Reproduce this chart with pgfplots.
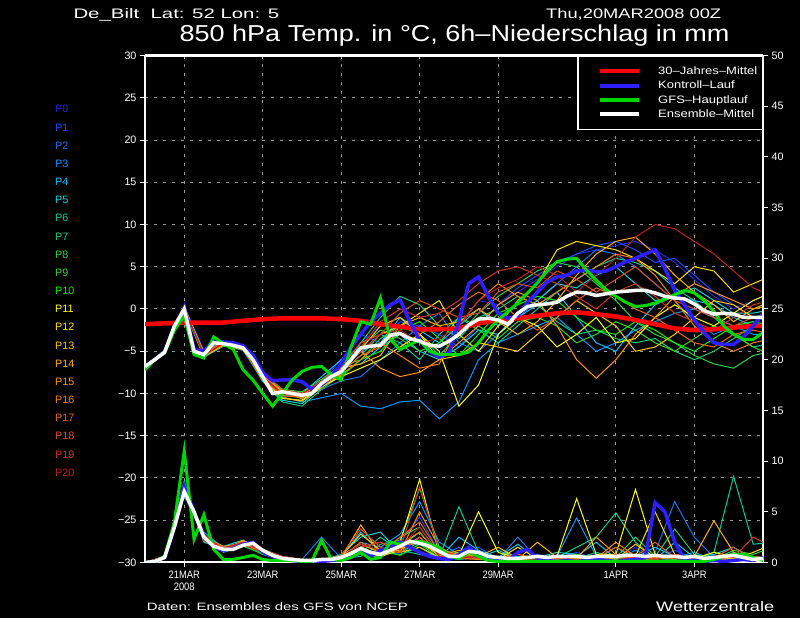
\documentclass[border=0pt]{standalone}
\usepackage{fontspec}
\setmainfont{Liberation Sans}
\usepackage{graphicx}
\usepackage{pgfplots}
\pgfplotsset{compat=1.18}

\definecolor{p0}{RGB}{35,35,225}
\definecolor{p1}{RGB}{25,75,255}
\definecolor{p2}{RGB}{25,115,240}
\definecolor{p3}{RGB}{0,150,255}
\definecolor{p4}{RGB}{0,190,255}
\definecolor{p5}{RGB}{0,212,225}
\definecolor{p6}{RGB}{0,205,150}
\definecolor{p7}{RGB}{20,205,115}
\definecolor{p8}{RGB}{35,212,70}
\definecolor{p9}{RGB}{50,212,40}
\definecolor{p10}{RGB}{0,240,0}
\definecolor{p11}{RGB}{255,255,0}
\definecolor{p12}{RGB}{255,225,0}
\definecolor{p13}{RGB}{255,200,0}
\definecolor{p14}{RGB}{255,175,0}
\definecolor{p15}{RGB}{255,150,0}
\definecolor{p16}{RGB}{245,130,10}
\definecolor{p17}{RGB}{235,100,20}
\definecolor{p18}{RGB}{225,75,30}
\definecolor{p19}{RGB}{210,50,30}
\definecolor{p20}{RGB}{190,30,30}
\definecolor{ctrl}{RGB}{45,30,255}
\definecolor{gfs}{RGB}{0,215,0}
\definecolor{clim}{RGB}{255,0,0}
\definecolor{gridgray}{RGB}{150,150,150}

\newcommand\smallfont{\fontsize{10.75}{11.6}\selectfont}
% member series, 12-hourly values
\newcommand\mem[2]{\addplot[color=#1, line width=1pt, forget plot] table[x expr=\coordindex*0.5, y index=0, header=false, row sep=\\]{#2};}

\begin{document}
\begin{tikzpicture}[x=1pt,y=1pt]
\fill[black] (0,0) rectangle (800,618);
\path[use as bounding box] (0,0) rectangle (800,618);

% top ticks (inside)
\begin{axis}[at={(145pt,55.5pt)}, anchor=south west, scale only axis,
  width=618pt, height=507pt, xmin=0, xmax=15.75, ymin=-30, ymax=30,
  hide y axis, axis x line*=top, x axis line style={white, line width=2pt, -},
  xtick={1,3,5,7,9,12,14}, xticklabels={}, tick align=inside,
  major tick length=4pt, xtick style={white, line width=1pt}]
\end{axis}

% temperature axis
\begin{axis}[at={(145pt,55.5pt)}, anchor=south west, scale only axis,
  width=618pt, height=507pt, xmin=0, xmax=15.75, ymin=-30, ymax=30,
  axis line style={white, line width=2pt},
  xtick={1,3,5,7,9,12,14},
  xticklabels={{\scalebox{0.87}[1]{21MAR}\\\scalebox{0.87}[1]{2008}},
    \scalebox{0.87}[1]{23MAR},\scalebox{0.87}[1]{25MAR},\scalebox{0.87}[1]{27MAR},
    \scalebox{0.87}[1]{29MAR},\scalebox{0.87}[1]{1APR},\scalebox{0.87}[1]{3APR}},
  ytick={-30,-25,...,30},
  yticklabels={−30,−25,−20,−15,−10,−5,0,5,10,15,20,25,30},
  xtick pos=bottom, ytick pos=left, tick align=outside, major tick length=5pt,
  tick style={white, line width=1pt},
  xticklabel style={align=center, text=white, font=\smallfont},
  yticklabel style={text=white, font=\smallfont},
  grid=major, major grid style={gridgray, line width=1pt, dash pattern=on 3pt off 6pt},
  legend cell align=left,
  legend image code/.code={\path (0pt,0pt); \draw[#1, line width=4pt] (15pt,0pt) -- (54pt,0pt);},
  legend style={at={(1,1)}, anchor=north east, fill=black, draw=white, line width=1.5pt,
    text=white, font=\smallfont, inner xsep=5pt, inner ysep=10pt, column sep=17pt, row sep=4.4pt,
    nodes={inner sep=0pt, text height=8pt, text depth=2pt}},
]
% ensemble members P0..P20 (850 hPa temperature, 12-hourly)
\mem{p0}{-6.7\\-5.1\\0.2\\-5.2\\-3.9\\-4.2\\-7.5\\-10.5\\-10.8\\-9.0\\-6.5\\-4.0\\-2.0\\-1.0\\-3.5\\-5.0\\-2.0\\1.0\\0.5\\2.0\\3.5\\5.0\\6.5\\7.0\\7.5\\8.0\\7.0\\5.5\\3.5\\1.5\\0.0\\1.0\\2.0\\}
\mem{p1}{-6.8\\-5.0\\0.1\\-5.6\\-4.3\\-4.9\\-8.5\\-10.3\\-10.0\\-8.5\\-6.0\\-3.0\\-4.0\\-1.5\\-2.0\\-3.0\\-4.5\\-2.0\\0.5\\2.5\\4.0\\5.5\\6.5\\7.5\\8.0\\7.0\\5.5\\6.0\\4.0\\2.0\\0.5\\-1.0\\-0.5\\}
\mem{p2}{-6.9\\-4.9\\0.0\\-5.3\\-4.0\\-4.5\\-8.2\\-10.0\\-10.5\\-9.5\\-8.5\\-8.0\\-6.0\\-4.0\\-2.0\\-0.5\\-4.0\\-5.0\\-3.0\\-1.0\\1.0\\3.0\\5.0\\7.0\\6.5\\5.0\\3.0\\1.0\\-1.5\\-3.0\\-2.0\\-1.5\\-2.5\\}
\mem{p3}{-6.8\\-5.2\\-0.2\\-5.5\\-4.2\\-4.8\\-8.4\\-10.4\\-11.0\\-10.5\\-10.0\\-11.5\\-11.8\\-11.0\\-10.8\\-13.0\\-11.0\\-6.0\\-4.0\\-3.0\\-2.0\\-1.0\\-3.0\\-5.0\\-4.0\\-2.5\\-1.5\\-0.5\\0.0\\-1.0\\-2.0\\-3.0\\-3.0\\}
\mem{p4}{-6.7\\-5.0\\0.3\\-5.0\\-3.8\\-4.4\\-7.8\\-9.5\\-10.0\\-8.0\\-6.0\\-5.0\\-4.0\\-1.0\\-2.5\\-4.0\\-2.0\\0.0\\-2.0\\-1.0\\0.5\\2.0\\-1.0\\-4.0\\-5.0\\-2.0\\0.5\\1.5\\1.0\\0.5\\-1.0\\-2.0\\-1.5\\}
\mem{p5}{-6.9\\-5.1\\-0.1\\-5.7\\-4.4\\-4.7\\-8.3\\-10.8\\-11.2\\-9.2\\-7.0\\-6.5\\-4.5\\-3.0\\-5.0\\-6.0\\-4.5\\-2.5\\-3.0\\-0.5\\1.0\\3.0\\2.5\\4.0\\5.0\\3.0\\1.0\\1.5\\2.5\\1.0\\-0.5\\-0.5\\0.0\\}
\mem{p6}{-6.8\\-5.0\\0.0\\-5.4\\-4.0\\-4.3\\-7.6\\-9.6\\-10.3\\-9.0\\-7.5\\-5.5\\-3.0\\-4.0\\-6.0\\-3.0\\-1.0\\-2.5\\-4.0\\-2.0\\0.0\\2.0\\3.5\\5.0\\6.0\\5.5\\4.5\\2.5\\1.0\\-1.0\\-3.0\\-4.5\\-4.0\\}
\mem{p7}{-6.8\\-5.0\\0.1\\-5.5\\-4.1\\-4.6\\-8.6\\-11.0\\-11.5\\-9.5\\-7.8\\-4.0\\-1.0\\1.5\\0.5\\-2.0\\-3.5\\-1.0\\0.0\\1.5\\0.5\\-1.5\\-3.0\\-2.5\\-3.5\\-4.0\\-3.5\\-5.0\\-6.0\\-5.0\\-3.5\\-2.0\\-1.5\\}
\mem{p8}{-6.8\\-4.9\\0.0\\-5.3\\-4.0\\-4.5\\-8.0\\-9.5\\-9.8\\-8.3\\-6.8\\-6.0\\-3.5\\-2.0\\-3.0\\-5.5\\-3.0\\-0.5\\1.5\\3.0\\4.5\\5.5\\5.0\\3.0\\1.0\\-1.5\\-3.0\\-4.0\\-5.5\\-6.5\\-7.0\\-5.5\\-5.0\\}
\mem{p9}{-6.7\\-5.0\\0.1\\-5.6\\-4.2\\-4.9\\-8.2\\-10.2\\-10.5\\-8.5\\-7.0\\-4.5\\-2.5\\-3.5\\-5.0\\-4.0\\-1.0\\-2.0\\-3.5\\-1.5\\-1.0\\-2.0\\-4.0\\-3.0\\-1.5\\-2.5\\-4.0\\-5.0\\-3.5\\-2.0\\-3.0\\-4.5\\-5.5\\}
\mem{p10}{-6.9\\-5.1\\-0.2\\-5.4\\-4.1\\-4.7\\-7.9\\-9.7\\-10.0\\-9.0\\-8.0\\-6.0\\-5.0\\-2.5\\-1.5\\-3.5\\-5.5\\-3.0\\-0.5\\0.5\\1.5\\1.0\\-1.0\\-2.5\\-3.0\\-1.5\\-2.5\\-4.0\\-5.0\\-3.5\\-2.0\\-1.5\\-2.0\\}
\mem{p11}{-6.8\\-5.0\\0.2\\-5.5\\-4.0\\-4.4\\-8.1\\-10.6\\-10.8\\-9.2\\-8.0\\-7.0\\-6.0\\-4.5\\-3.0\\-5.0\\-11.5\\-9.0\\-3.0\\-1.0\\-2.0\\-4.5\\-3.0\\-1.0\\-4.0\\-3.5\\-1.0\\0.5\\-1.0\\-2.0\\-0.5\\1.0\\2.0\\}
\mem{p12}{-6.7\\-5.1\\0.0\\-5.2\\-3.9\\-4.3\\-7.7\\-9.9\\-10.4\\-8.9\\-7.2\\-5.0\\-3.0\\-2.0\\-0.5\\1.0\\-3.0\\-5.0\\-2.0\\1.0\\3.0\\7.0\\8.0\\7.5\\7.0\\6.0\\4.5\\3.0\\5.0\\4.5\\2.0\\3.0\\4.0\\}
\mem{p13}{-6.8\\-5.0\\0.1\\-5.4\\-4.2\\-4.6\\-8.4\\-10.5\\-10.9\\-9.3\\-7.6\\-4.8\\-2.0\\-1.0\\-3.0\\-6.0\\-5.5\\-4.0\\-4.5\\-5.0\\-3.0\\-1.0\\1.0\\-0.5\\-2.0\\-5.0\\-4.5\\-3.0\\-1.0\\1.0\\0.5\\-1.0\\-0.5\\}
\mem{p14}{-6.9\\-4.9\\0.3\\-5.6\\-4.3\\-4.8\\-8.0\\-10.0\\-10.2\\-8.6\\-7.0\\-6.5\\-5.5\\-2.0\\-1.0\\-2.0\\-1.5\\0.0\\-1.5\\-3.0\\-1.5\\1.0\\4.0\\6.5\\8.0\\8.5\\6.5\\4.0\\2.0\\0.5\\-1.5\\0.0\\1.0\\}
\mem{p15}{-6.8\\-5.0\\0.0\\-5.3\\-4.0\\-4.5\\-8.2\\-9.6\\-10.0\\-8.7\\-7.3\\-5.0\\-7.0\\-8.0\\-7.5\\-6.0\\-4.0\\-2.0\\0.5\\2.0\\1.0\\-2.0\\-6.0\\-8.2\\-6.0\\-3.0\\-1.0\\1.5\\3.0\\2.0\\1.0\\0.0\\0.5\\}
\mem{p16}{-6.7\\-5.1\\0.2\\-5.5\\-4.1\\-4.6\\-7.8\\-9.9\\-10.6\\-9.1\\-7.8\\-6.0\\-4.0\\-5.5\\-7.0\\-6.5\\-2.0\\1.0\\3.0\\1.5\\0.5\\2.0\\3.5\\5.0\\6.5\\6.0\\4.0\\1.0\\-2.0\\-4.0\\-5.0\\-4.0\\-3.5\\}
\mem{p17}{-6.8\\-5.0\\0.0\\-5.4\\-4.2\\-4.7\\-8.3\\-10.3\\-10.4\\-8.8\\-7.5\\-5.5\\-4.5\\-2.0\\-3.0\\-1.5\\0.5\\2.0\\1.0\\-1.0\\-2.5\\-1.0\\1.0\\2.5\\1.5\\0.0\\-1.0\\-2.5\\-4.0\\-4.5\\-3.0\\-2.5\\-3.0\\}
\mem{p18}{-6.9\\-4.9\\-0.1\\-5.2\\-3.9\\-4.4\\-7.5\\-9.5\\-10.0\\-8.5\\-6.8\\-4.0\\-3.0\\-0.5\\1.0\\0.0\\-1.0\\-0.5\\2.0\\3.0\\2.5\\4.5\\3.5\\2.0\\3.5\\5.0\\3.0\\1.0\\0.0\\-1.0\\-2.0\\-1.0\\-1.5\\}
\mem{p19}{-6.8\\-5.0\\0.1\\-5.5\\-4.0\\-4.5\\-8.1\\-10.1\\-10.3\\-8.9\\-7.4\\-4.5\\-1.5\\0.0\\-1.0\\-0.5\\1.0\\3.0\\4.5\\5.0\\4.0\\3.0\\1.5\\0.0\\2.0\\3.0\\1.5\\-0.5\\-1.5\\-2.5\\-1.0\\0.5\\1.0\\}
\mem{p20}{-6.7\\-5.1\\0.0\\-5.4\\-4.1\\-4.6\\-8.0\\-10.0\\-10.1\\-8.6\\-7.1\\-5.0\\-3.0\\-2.5\\-4.0\\-3.5\\-2.0\\1.0\\2.5\\3.5\\5.0\\4.0\\2.0\\4.0\\6.0\\8.5\\10.0\\9.5\\8.0\\6.5\\4.5\\2.5\\1.5\\}
% 30-year mean (12-hourly)
\addplot[color=clim, line width=4.5pt] table[x expr=\coordindex*0.5, y index=0, header=false, row sep=\\]{-1.8\\-1.7\\-1.6\\-1.6\\-1.6\\-1.4\\-1.2\\-1.1\\-1.1\\-1.1\\-1.2\\-1.4\\-1.8\\-2.1\\-2.4\\-2.4\\-2.3\\-1.7\\-1.3\\-1.1\\-0.8\\-0.5\\-0.4\\-0.6\\-0.9\\-1.3\\-1.8\\-2.3\\-2.5\\-2.4\\-2.2\\-2.0\\-2.0\\};
\addlegendentry{\scalebox{1.21}[1]{30–Jahres–Mittel}}
% control run (6-hourly)
\addplot[color=ctrl, line width=3.5pt] table[x expr=\coordindex*0.25, y index=0, header=false, row sep=\\]{-6.8\\-6.0\\-5.0\\-2.2\\0.2\\-4.8\\-5.0\\-3.8\\-3.9\\-4.0\\-4.4\\-5.5\\-7.5\\-8.5\\-8.4\\-8.4\\-8.6\\-9.5\\-9.0\\-8.0\\-6.5\\-4.5\\-3.0\\-1.5\\-0.5\\0.5\\1.1\\-1.5\\-3.7\\-5.0\\-5.7\\-5.2\\-1.5\\3.0\\3.8\\1.5\\-0.5\\-1.1\\-0.8\\0.8\\2.0\\3.2\\3.8\\4.0\\4.5\\4.6\\4.4\\4.5\\5.0\\5.6\\6.0\\6.5\\7.0\\4.8\\2.2\\0.5\\-1.3\\-2.8\\-4.0\\-4.2\\-4.2\\-3.3\\-2.0\\-0.5\\0.3\\};
\addlegendentry{\scalebox{1.21}[1]{Kontroll–Lauf}}
% GFS main run (6-hourly)
\addplot[color=gfs, line width=3pt] table[x expr=\coordindex*0.25, y index=0, header=false, row sep=\\]{-7.2\\-6.0\\-5.2\\-2.5\\-0.8\\-5.4\\-5.8\\-3.3\\-4.1\\-4.8\\-7.2\\-8.4\\-10.0\\-11.5\\-10.0\\-8.4\\-7.4\\-6.9\\-6.8\\-7.8\\-8.4\\-4.5\\-1.5\\-1.8\\1.3\\-3.6\\-4.8\\-4.2\\-3.7\\-5.0\\-5.4\\-5.4\\-5.4\\-5.1\\-4.0\\-2.5\\-1.3\\-0.3\\0.7\\1.9\\3.1\\4.5\\5.6\\5.9\\6.0\\4.6\\3.4\\2.3\\1.5\\0.8\\0.3\\0.4\\0.7\\1.2\\1.7\\2.2\\1.9\\1.0\\-0.3\\-2.0\\-3.0\\-3.6\\-3.6\\-2.8\\-2.2\\};
\addlegendentry{\scalebox{1.21}[1]{GFS–Hauptlauf}}
% ensemble mean (6-hourly)
\addplot[color=white, line width=3.5pt] table[x expr=\coordindex*0.25, y index=0, header=false, row sep=\\]{-6.8\\-6.0\\-5.1\\-2.0\\0.0\\-5.0\\-5.4\\-4.0\\-4.1\\-4.3\\-4.6\\-6.0\\-8.0\\-10.0\\-9.8\\-10.0\\-10.2\\-10.0\\-8.8\\-8.0\\-7.4\\-6.0\\-4.6\\-4.4\\-4.3\\-3.1\\-2.9\\-3.5\\-3.8\\-4.3\\-4.4\\-3.8\\-3.0\\-1.9\\-1.2\\-1.1\\-1.3\\-1.8\\-0.5\\0.3\\0.5\\0.6\\0.8\\1.5\\2.0\\1.9\\1.6\\1.8\\2.0\\2.1\\2.2\\2.2\\1.9\\1.5\\1.3\\1.2\\0.6\\-0.2\\-0.6\\-0.5\\-0.6\\-1.0\\-1.0\\-1.0\\-1.0\\};
\addlegendentry{\scalebox{1.21}[1]{Ensemble–Mittel}}
\end{axis}

% precipitation axis (right, mm per 6 h)
\begin{axis}[at={(145pt,55.5pt)}, anchor=south west, scale only axis,
  width=618pt, height=507pt, xmin=0, xmax=15.75, ymin=0, ymax=50,
  hide x axis, axis y line*=right, y axis line style={white, line width=2pt, -},
  ytick={0,5,...,50}, tick align=outside, major tick length=5pt,
  ytick style={white, line width=1pt},
  yticklabel style={text=white, font=\smallfont},
  /pgf/number format/assume math mode=true]
\mem{p0}{0\\0.5\\7.2\\2.5\\1.2\\1.9\\1.1\\0.3\\0.2\\0.1\\0.4\\1.5\\0.8\\1.5\\2.5\\0.5\\0.3\\0.8\\0.2\\0.6\\0.3\\0.5\\0.2\\0.8\\0.3\\1.5\\0.4\\0.2\\0.6\\0.3\\0.2\\0.5\\0.3\\}
\mem{p1}{0\\0.4\\7.8\\2.2\\1.5\\2.0\\0.9\\0.4\\0.1\\0.2\\0.6\\0.8\\1.2\\2.0\\4.5\\1.0\\0.4\\1.5\\0.3\\0.2\\0.8\\0.4\\1.0\\0.3\\0.5\\0.8\\0.3\\1.2\\0.4\\0.5\\0.2\\0.3\\0.6\\}
\mem{p2}{0\\0.5\\6.5\\2.8\\1.3\\1.7\\1.2\\0.5\\0.3\\2.5\\0.4\\1.2\\0.5\\1.8\\1.0\\0.6\\1.5\\0.5\\0.3\\2.5\\0.4\\0.6\\0.3\\0.4\\0.5\\0.3\\1.0\\6.0\\2.5\\0.5\\0.4\\0.3\\0.2\\}
\mem{p3}{0\\0.6\\7.0\\3.0\\1.4\\1.8\\1.0\\0.4\\0.2\\0.3\\0.5\\2.0\\1.5\\2.8\\6.0\\2.0\\0.8\\0.4\\0.5\\0.3\\0.4\\0.6\\4.4\\0.6\\0.3\\1.2\\0.4\\0.5\\1.0\\0.3\\0.6\\0.4\\0.3\\}
\mem{p4}{0\\0.5\\8.0\\2.4\\1.2\\2.1\\0.8\\0.3\\0.2\\0.2\\0.6\\3.0\\1.0\\0.8\\1.5\\0.4\\2.5\\1.2\\0.5\\1.8\\0.3\\0.4\\0.6\\2.0\\0.4\\0.5\\1.5\\0.6\\0.3\\0.2\\1.0\\0.4\\0.6\\}
\mem{p5}{0\\0.4\\7.5\\2.6\\1.6\\2.2\\1.3\\0.6\\0.3\\0.2\\0.8\\2.5\\3.0\\1.0\\2.0\\0.7\\0.3\\0.5\\1.2\\0.4\\0.5\\1.0\\0.8\\0.3\\1.5\\0.4\\0.3\\2.0\\0.5\\0.8\\1.5\\0.3\\0.4\\}
\mem{p6}{0\\0.5\\7.3\\2.3\\1.0\\1.6\\0.9\\0.4\\0.2\\0.3\\0.5\\1.0\\2.5\\1.2\\0.8\\0.5\\5.5\\1.0\\0.4\\0.6\\0.3\\0.5\\1.5\\2.5\\4.9\\2.0\\0.4\\0.6\\0.4\\1.0\\8.5\\1.8\\2.0\\}
\mem{p7}{0\\0.5\\7.6\\2.0\\1.3\\1.9\\1.1\\0.3\\0.1\\0.2\\0.4\\0.6\\1.8\\2.2\\7.3\\1.5\\0.6\\0.3\\0.2\\0.5\\0.6\\0.3\\0.4\\1.0\\0.5\\2.5\\0.6\\3.3\\0.8\\0.4\\0.5\\0.6\\0.3\\}
\mem{p8}{0\\0.6\\6.8\\2.5\\1.5\\2.0\\1.0\\0.5\\0.2\\0.4\\0.3\\0.8\\0.5\\1.5\\3.0\\0.6\\0.5\\0.4\\0.3\\0.2\\0.4\\0.6\\0.3\\0.5\\0.4\\0.3\\0.6\\0.4\\0.5\\0.3\\1.2\\0.8\\1.5\\}
\mem{p9}{0\\0.4\\7.4\\2.7\\1.1\\1.8\\1.2\\0.4\\0.3\\0.2\\0.6\\1.5\\0.7\\2.5\\3.5\\0.8\\1.0\\0.6\\0.4\\0.3\\0.2\\0.5\\0.8\\0.4\\0.3\\0.5\\0.4\\0.3\\0.6\\0.5\\0.3\\0.4\\0.8\\}
\mem{p10}{0\\0.5\\7.9\\2.1\\1.4\\1.7\\0.8\\0.3\\0.2\\0.3\\0.5\\0.9\\1.2\\0.7\\1.8\\0.5\\0.4\\0.8\\0.3\\0.4\\0.6\\0.3\\0.5\\0.4\\0.3\\0.8\\0.5\\0.6\\0.4\\0.3\\0.5\\0.2\\0.4\\}
\mem{p11}{0\\0.5\\7.0\\2.4\\1.3\\2.0\\1.0\\0.4\\0.2\\0.2\\0.7\\1.8\\1.0\\2.0\\8.2\\0.8\\0.7\\5.0\\1.0\\0.4\\0.5\\0.6\\6.3\\0.8\\0.8\\7.2\\0.8\\0.5\\0.4\\1.0\\0.6\\0.5\\0.4\\}
\mem{p12}{0\\0.4\\7.2\\2.2\\1.2\\1.9\\1.1\\0.5\\0.3\\0.2\\0.5\\1.0\\0.6\\1.2\\2.5\\0.6\\0.4\\0.5\\0.3\\1.5\\0.4\\0.3\\0.6\\0.4\\0.5\\0.6\\5.0\\0.8\\0.5\\0.4\\0.3\\1.0\\1.8\\}
\mem{p13}{0\\0.5\\7.7\\2.5\\1.3\\2.1\\1.0\\0.4\\0.2\\0.3\\0.6\\2.8\\1.2\\1.0\\1.5\\0.5\\1.0\\0.6\\1.5\\0.4\\0.3\\0.5\\0.4\\0.6\\0.3\\1.8\\0.5\\0.4\\0.6\\0.3\\0.4\\0.5\\0.3\\}
\mem{p14}{0\\0.6\\6.9\\2.6\\1.4\\1.8\\1.2\\0.4\\0.3\\0.2\\0.5\\3.7\\0.8\\1.5\\2.0\\0.7\\1.2\\0.5\\0.4\\0.3\\2.0\\0.5\\0.4\\0.6\\0.5\\0.4\\0.8\\0.5\\0.6\\4.1\\1.0\\0.4\\0.5\\}
\mem{p15}{0\\0.5\\7.4\\2.3\\1.2\\2.2\\0.9\\0.3\\0.1\\0.2\\0.4\\1.5\\2.0\\1.0\\5.0\\1.5\\0.5\\0.8\\0.4\\0.3\\0.5\\0.6\\0.4\\2.5\\0.8\\0.4\\0.3\\0.6\\0.4\\0.5\\0.8\\0.6\\0.4\\}
\mem{p16}{0\\0.5\\7.1\\2.4\\1.6\\1.9\\1.1\\0.5\\0.2\\0.3\\0.6\\1.2\\0.7\\1.8\\3.0\\0.6\\0.4\\0.3\\0.5\\0.8\\0.4\\0.3\\0.5\\0.4\\2.0\\0.6\\0.5\\0.4\\0.3\\0.6\\0.5\\0.4\\0.3\\}
\mem{p17}{0\\0.4\\7.6\\2.1\\1.3\\2.0\\1.0\\0.4\\0.2\\0.2\\0.5\\2.0\\1.0\\2.5\\4.0\\1.0\\0.8\\0.5\\0.3\\0.4\\0.6\\0.5\\0.3\\0.4\\1.5\\0.6\\2.0\\0.5\\0.4\\0.3\\0.6\\0.5\\0.7\\}
\mem{p18}{0\\0.5\\7.3\\2.5\\1.5\\1.8\\1.3\\0.6\\0.3\\0.2\\0.7\\3.3\\1.5\\1.0\\2.5\\0.8\\0.5\\0.4\\0.6\\0.3\\0.5\\0.4\\0.6\\0.3\\0.8\\0.5\\0.4\\0.6\\0.3\\0.5\\1.5\\0.4\\0.6\\}
\mem{p19}{0\\0.5\\7.0\\2.8\\1.2\\1.7\\1.0\\0.4\\0.2\\0.3\\0.5\\1.5\\2.0\\1.2\\7.5\\1.2\\0.6\\0.5\\0.4\\0.3\\0.5\\0.6\\0.5\\0.4\\0.6\\0.5\\0.3\\0.8\\0.4\\0.6\\0.5\\2.5\\1.5\\}
\mem{p20}{0\\0.6\\7.5\\2.2\\1.4\\2.0\\1.2\\0.3\\0.2\\0.2\\0.6\\1.8\\1.2\\1.5\\3.5\\0.6\\0.4\\0.6\\0.5\\0.4\\0.3\\0.5\\0.6\\0.4\\0.5\\0.3\\0.6\\0.4\\0.5\\0.3\\0.6\\0.4\\0.5\\}
% control precip (6-hourly)
\addplot[color=ctrl, line width=3.5pt] table[x expr=\coordindex*0.25, y index=0, header=false, row sep=\\]{0\\0.1\\0.5\\3.5\\7.5\\5.0\\2.5\\1.5\\1.2\\1.4\\1.8\\2.0\\1.0\\0.6\\0.3\\0.2\\0.1\\0.2\\0.1\\0.2\\0.3\\0.5\\1.0\\0.6\\1.2\\1.5\\2.0\\1.5\\1.0\\0.6\\0.4\\0.3\\0.8\\1.5\\0.8\\0.3\\0.2\\0.2\\1.0\\1.3\\0.4\\0.2\\0.1\\0.2\\0.1\\0.2\\0.3\\0.2\\0.1\\0.2\\0.3\\0.5\\5.9\\5.0\\2.0\\0.3\\0.2\\0.1\\0.2\\0.1\\0.2\\0.3\\0.2\\0.5\\0.3\\};
% GFS precip (6-hourly)
\addplot[color=gfs, line width=3pt] table[x expr=\coordindex*0.25, y index=0, header=false, row sep=\\]{0\\0.1\\0.6\\4.0\\11.0\\2.3\\4.7\\1.3\\0.3\\0.3\\0.5\\0.7\\0.3\\0.2\\0.2\\0.2\\0.1\\0.1\\2.2\\0.3\\0.2\\0.5\\1.0\\0.3\\0.5\\2.0\\1.8\\2.0\\2.1\\1.8\\1.5\\0.6\\0.4\\1.0\\0.6\\0.2\\0.1\\0.1\\0.1\\0.1\\0.1\\0.1\\0.1\\0.1\\0.1\\0.1\\0.1\\0.1\\0.1\\0.1\\0.1\\0.1\\0.1\\0.1\\0.1\\0.1\\0.1\\0.1\\0.3\\0.6\\0.8\\0.8\\0.5\\0.2\\0.1\\};
% ensemble mean precip (6-hourly)
\addplot[color=white, line width=3.5pt] table[x expr=\coordindex*0.25, y index=0, header=false, row sep=\\]{0\\0.1\\0.5\\3.5\\7.0\\5.0\\2.5\\1.6\\1.3\\1.3\\1.7\\1.9\\1.2\\0.7\\0.4\\0.3\\0.2\\0.2\\0.3\\0.3\\0.5\\0.9\\1.4\\1.0\\0.8\\1.2\\1.6\\2.1\\1.9\\1.6\\1.1\\0.6\\0.6\\1.1\\1.0\\0.6\\0.5\\0.4\\0.4\\0.5\\0.6\\0.5\\0.6\\0.6\\0.6\\0.5\\0.6\\0.6\\0.6\\0.7\\0.7\\0.6\\0.7\\0.6\\0.6\\0.5\\0.6\\0.4\\0.5\\0.6\\0.7\\0.5\\0.3\\0.4\\0.4\\};
\end{axis}

% texts
\node[anchor=base west, inner sep=0pt, text=white] at (73.3,599.7) {\resizebox{205.7pt}{10pt}{De\_Bilt\ \ Lat: 52 Lon: 5}};
\node[anchor=base west, inner sep=0pt, text=white] at (546,599.7) {\resizebox{175pt}{10pt}{Thu,20MAR2008 00Z}};
\node[anchor=base west, inner sep=0pt, text=white] at (179.3,576.3) {\resizebox{550pt}{16.7pt}{850 hPa Temp. in °C, 6h–Niederschlag in mm}};
\node[anchor=base west, inner sep=0pt, text=white] at (146.7,7) {\resizebox{261pt}{7.7pt}{Daten: Ensembles des GFS von NCEP}};
\node[anchor=base west, inner sep=0pt, text=white] at (656,6.5) {\resizebox{118pt}{10pt}{Wetterzentrale}};
\foreach \i in {0,...,20} {
  \node[anchor=base west, inner sep=0pt, text=p\i, font=\smallfont] at (55,{618-112.85-18.17*\i}) {P\i};
}
\end{tikzpicture}
\end{document}
